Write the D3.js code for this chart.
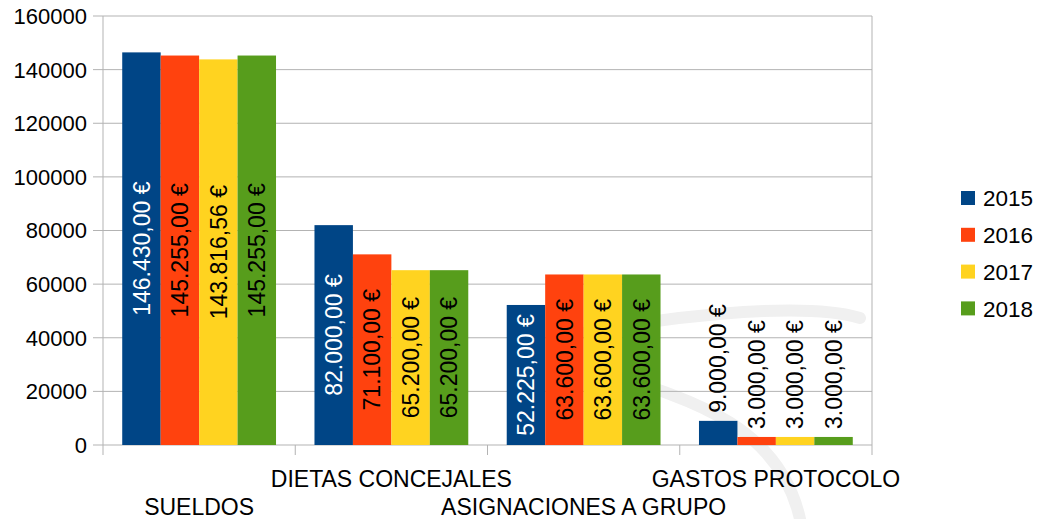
<!DOCTYPE html>
<html>
<head>
<meta charset="utf-8">
<script src="https://cdn.jsdelivr.net/npm/d3@7"></script>
<style>
  body { margin: 0; background: #fff; }
  text { font-family: "Liberation Sans", Arial, sans-serif; }
</style>
</head>
<body>
<svg width="1039" height="519"></svg>
<script>
// Data
var categories = ['SUELDOS', 'DIETAS CONCEJALES', 'ASIGNACIONES A GRUPO', 'GASTOS PROTOCOLO'];
var years = ['2015', '2016', '2017', '2018'];
var v2015 = [146430, 82000, 52225, 9000];
var v2016 = [145255, 71100, 63600, 3000];
var v2017 = [143816.56, 65200, 63600, 3000];
var v2018 = [145255, 65200, 63600, 3000];
var yTicks = [0, 20000, 40000, 60000, 80000, 100000, 120000, 140000, 160000];

var colors = ['#004586', '#ff420e', '#ffd320', '#579d1c'];
var labelColors = ['#fff', '#000', '#000', '#000'];
var series = [v2015, v2016, v2017, v2018];

// Plot area
var margin = {top: 16, right: 167, bottom: 74, left: 103};
var width = 1039 - margin.left - margin.right;
var height = 519 - margin.top - margin.bottom;

var svg = d3.select('svg');

// faint background swirl (watermark in the original), drawn first so it sits behind
var swirl = d3.path();
swirl.moveTo(560, 338);
swirl.bezierCurveTo(650, 318, 800, 300, 860, 318);
swirl.moveTo(600, 372);
swirl.bezierCurveTo(700, 400, 780, 430, 800, 519);
svg.append('path')
  .attr('d', swirl.toString())
  .attr('fill', 'none')
  .attr('stroke', '#f0f0f0')
  .attr('stroke-width', 12)
  .attr('stroke-linecap', 'round');

var chart = svg.append('g')
  .attr('transform', 'translate(' + margin.left + ',' + margin.top + ')');

var x0 = d3.scaleBand().domain(categories).range([0, width]);
var x1 = d3.scaleBand().domain(years).range([x0.bandwidth() * 0.1, x0.bandwidth() * 0.9]);
var y = d3.scaleLinear().domain([0, 160000]).range([height, 0]);

// grid
chart.append('g').selectAll('line')
  .data(yTicks).enter()
  .append('line')
  .attr('x1', -10).attr('x2', width)
  .attr('y1', d => y(d)).attr('y2', d => y(d))
  .attr('stroke', '#b3b3b3')
  .attr('stroke-width', 1);

// y axis line and right border
chart.append('line')
  .attr('x1', 0).attr('x2', 0).attr('y1', 0).attr('y2', height + 10)
  .attr('stroke', '#b3b3b3');
chart.append('line')
  .attr('x1', width).attr('x2', width).attr('y1', 0).attr('y2', height + 10)
  .attr('stroke', '#b3b3b3');

// x ticks at band boundaries
chart.append('g').selectAll('line')
  .data(categories.slice(1)).enter()
  .append('line')
  .attr('x1', d => x0(d)).attr('x2', d => x0(d))
  .attr('y1', height).attr('y2', height + 10)
  .attr('stroke', '#b3b3b3');

// y tick labels
chart.append('g').selectAll('text')
  .data(yTicks).enter()
  .append('text')
  .attr('x', -16)
  .attr('y', d => y(d))
  .attr('dy', '0.36em')
  .attr('text-anchor', 'end')
  .attr('font-size', 22)
  .attr('fill', '#000')
  .text(d => d);

// category labels, staggered on two rows
chart.append('g').selectAll('text')
  .data(categories).enter()
  .append('text')
  .attr('x', d => x0(d) + x0.bandwidth() / 2)
  .attr('y', (d, i) => height + (i % 2 ? 42 : 70))
  .attr('text-anchor', 'middle')
  .attr('font-size', 23)
  .attr('fill', '#000')
  .text(d => d);

// bars
var fmt = d3.formatLocale({decimal: ',', thousands: '.', grouping: [3], currency: ['', ' €']}).format('$,.2f');
var bars = [];
categories.forEach(function(c, ci) {
  years.forEach(function(yr, si) {
    bars.push({cat: c, year: yr, s: si, value: series[si][ci]});
  });
});

var groups = chart.append('g').selectAll('g')
  .data(bars).enter()
  .append('g');

groups.append('rect')
  .attr('x', d => x0(d.cat) + x1(d.year))
  .attr('y', d => y(d.value))
  .attr('width', x1.bandwidth())
  .attr('height', d => height - y(d.value))
  .attr('fill', d => colors[d.s]);

groups.append('text')
  .attr('font-size', 23)
  .text(d => fmt(d.value))
  .each(function(d) {
    var t = d3.select(this);
    var len = this.getComputedTextLength();
    var barH = height - y(d.value);
    var cx = x0(d.cat) + x1(d.year) + x1.bandwidth() / 2;
    var cy, col;
    if (len + 10 < barH) {
      cy = y(d.value) + barH / 2;
      col = labelColors[d.s];
    } else {
      cy = y(d.value) - 8 - len / 2;
      col = '#000';
    }
    t.attr('text-anchor', 'middle')
      .attr('dy', '0.36em')
      .attr('fill', col)
      .attr('transform', 'translate(' + cx + ',' + cy + ') rotate(-90)');
  });

// legend
var legend = svg.append('g').attr('transform', 'translate(961,191)');
var items = legend.selectAll('g')
  .data(years).enter()
  .append('g')
  .attr('transform', (d, i) => 'translate(0,' + i * 36.8 + ')');
items.append('rect')
  .attr('width', 14).attr('height', 14)
  .attr('fill', (d, i) => colors[i]);
items.append('text')
  .attr('x', 22).attr('y', 7)
  .attr('dy', '0.36em')
  .attr('font-size', 22.5)
  .attr('fill', '#000')
  .text(d => d);
</script>
</body>
</html>
